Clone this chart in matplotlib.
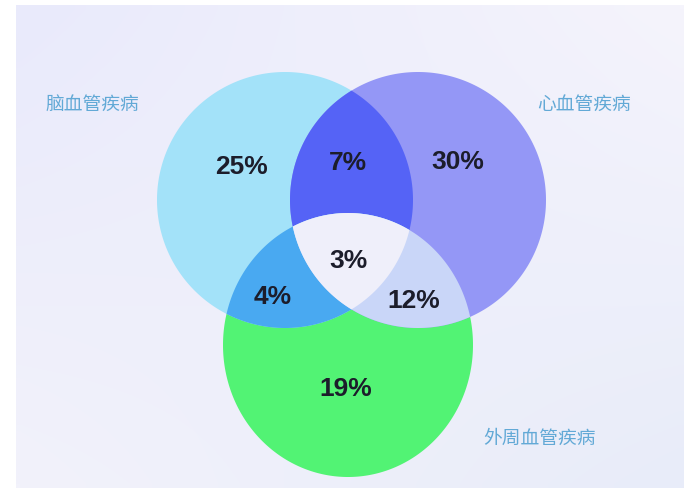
import numpy as np
import matplotlib
matplotlib.use("Agg")
import matplotlib.pyplot as plt
from matplotlib.patches import Polygon

plt.rcParams['font.family'] = ['Noto Sans CJK SC', 'DejaVu Sans']

# ---- data ----
set_names = ["脑血管疾病", "心血管疾病", "外周血管疾病"]
region_keys = ["A", "B", "C", "AB", "AC", "BC", "ABC"]
region_pcts = [25, 30, 19, 7, 4, 12, 3]

# ---- styling / layout ----
W, H = 684, 499
fig = plt.figure(figsize=(W / 100, H / 100), dpi=100)
ax = fig.add_axes([0, 0, 1, 1])
ax.set_xlim(0, W)
ax.set_ylim(H, 0)
ax.axis('off')

# background panel gradient
px0, px1, py0, py1 = 16, 684, 5, 488
ny, nx = 60, 80
u = np.linspace(0, 1, nx)[None, :, None]
v = np.linspace(0, 1, ny)[:, None, None]
TL = np.array([233, 234, 251]) / 255
TR = np.array([245, 244, 252]) / 255
BL = np.array([242, 242, 251]) / 255
BR = np.array([232, 236, 249]) / 255
grad = (TL * (1 - u) * (1 - v) + TR * u * (1 - v) + BL * (1 - u) * v + BR * u * v)
ax.imshow(grad, extent=(px0, px1, py1, py0), aspect='auto', zorder=0, interpolation='bilinear')

# ellipse geometry (center x, center y, half width, half height)
ellipses = {
    "A": (285, 200, 128, 128),
    "B": (418, 200, 128, 128),
    "C": (348, 345, 125, 132),
}
label_pos = {
    "A": (241, 167), "B": (458, 162), "C": (346, 389),
    "AB": (348, 163), "AC": (273, 297), "BC": (414, 301), "ABC": (348, 261),
}
colors = {
    "A": "#a3e2f9", "B": "#9497f6", "C": "#52f374",
    "AB": "#5563f6", "AC": "#49a9f1", "BC": "#c9d6f8", "ABC": "#efeffa",
}
name_pos = [(92, 104), (584, 104), (540, 438)]


def ellipse_poly(cx, cy, a, b, n=400):
    t = np.linspace(0, 2 * np.pi, n, endpoint=False)
    return np.column_stack([cx + a * np.cos(t), cy + b * np.sin(t)])


def clip(subject, clipper):
    # Sutherland-Hodgman for convex clipper
    def inside(p, a, b):
        return (b[0] - a[0]) * (p[1] - a[1]) - (b[1] - a[1]) * (p[0] - a[0]) >= 0

    def inter(p1, p2, a, b):
        x1, y1 = p1; x2, y2 = p2; x3, y3 = a; x4, y4 = b
        den = (x1 - x2) * (y3 - y4) - (y1 - y2) * (x3 - x4)
        t = ((x1 - x3) * (y3 - y4) - (y1 - y3) * (x3 - x4)) / den
        return (x1 + t * (x2 - x1), y1 + t * (y2 - y1))

    out = [tuple(p) for p in subject]
    m = len(clipper)
    for i in range(m):
        a = clipper[i]; b = clipper[(i + 1) % m]
        inp = out
        out = []
        if not inp:
            break
        s = inp[-1]
        for e in inp:
            if inside(e, a, b):
                if not inside(s, a, b):
                    out.append(inter(s, e, a, b))
                out.append(e)
            elif inside(s, a, b):
                out.append(inter(s, e, a, b))
            s = e
    return np.array(out)


polys = {k: ellipse_poly(*v) for k, v in ellipses.items()}
regions = {}
for k in "ABC":
    regions[k] = polys[k]
regions["AB"] = clip(polys["A"], polys["B"])
regions["AC"] = clip(polys["A"], polys["C"])
regions["BC"] = clip(polys["B"], polys["C"])
regions["ABC"] = clip(regions["AB"], polys["C"])

z = 2
for k in ["C", "A", "B", "AB", "AC", "BC", "ABC"]:
    ax.add_patch(Polygon(regions[k], closed=True, facecolor=colors[k],
                         edgecolor='none', zorder=z, antialiased=True))
    z += 0.1

for key, pct in zip(region_keys, region_pcts):
    x, y = label_pos[key]
    ax.text(x, y, f"{pct}%", ha='center', va='center', fontsize=19,
            fontweight='bold', family=['Liberation Sans', 'DejaVu Sans'],
            color='#1c1d2b', zorder=10)

for name, (x, y) in zip(set_names, name_pos):
    ax.text(x, y, name, ha='center', va='center', fontsize=13.5,
            fontweight='medium', color='#62a9d6', zorder=10)

fig.savefig("out.png", dpi=100, facecolor='white')
